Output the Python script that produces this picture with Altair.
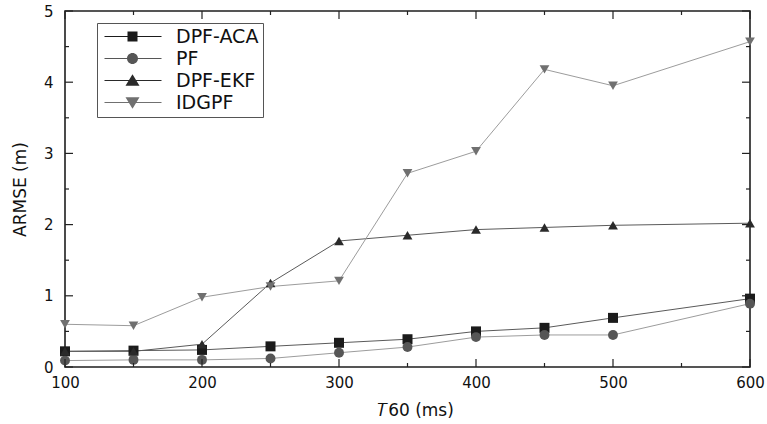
import altair as alt
import pandas as pd

# ---- data ----
t60 = [100, 150, 200, 250, 300, 350, 400, 450, 500, 600]
dpf_aca = [0.22, 0.23, 0.24, 0.29, 0.34, 0.39, 0.50, 0.55, 0.69, 0.96]
pf = [0.09, 0.10, 0.10, 0.12, 0.20, 0.28, 0.42, 0.45, 0.45, 0.89]
dpf_ekf = [0.22, 0.22, 0.32, 1.18, 1.77, 1.85, 1.93, 1.96, 1.99, 2.02]
idgpf = [0.60, 0.58, 0.98, 1.13, 1.21, 2.72, 3.03, 4.18, 3.95, 4.57]
series_names = ["DPF-ACA", "PF", "DPF-EKF", "IDGPF"]

x_major = [100, 200, 300, 400, 500, 600]
x_minor = [150, 250, 350, 450, 550]
y_major = [0, 1, 2, 3, 4, 5]
y_minor = [0.5, 1.5, 2.5, 3.5, 4.5]

rows = []
for name, vals in zip(series_names, [dpf_aca, pf, dpf_ekf, idgpf]):
    for t, v in zip(t60, vals):
        rows.append({"series": name, "t60": t, "armse": v})
df = pd.DataFrame(rows)

# ---- styling ----
W, H = 685, 356
FONT = "DejaVu Sans"
line_colors = ["#5a5a5a", "#9c9c9c", "#5a5a5a", "#9c9c9c"]
marker_colors = ["#1b1b1b", "#565656", "#2a2a2a", "#707070"]
marker_shapes = ["square", "circle", "triangle-up", "triangle-down"]
marker_sizes = [100, 95, 170, 170]

# legend symbols: thin line segment + marker (unit = 5 px)
seg = "M-1.2,-0.08 L10.2,-0.08 L10.2,0.08 L-1.2,0.08 Z "
legend_paths = [
    seg + "M3.4,-1 L5.4,-1 L5.4,1 L3.4,1 Z",
    seg + "M3.3,0 A1.1,1.1 0 1,1 5.5,0 A1.1,1.1 0 1,1 3.3,0 Z",
    seg + "M4.4,-1.25 L5.8,1.05 L3.0,1.05 Z",
    seg + "M3.0,-1.05 L5.8,-1.05 L4.4,1.25 Z",
]

xs = alt.Scale(domain=[100, 600], nice=False, zero=False)
ys = alt.Scale(domain=[0, 5], nice=False, zero=False)

x_axis = alt.Axis(
    title="𝑇60 (ms)", values=x_major, ticks=False, tickSize=0, domain=False,
    grid=False, format="d", labelFlush=False, labelFont=FONT, labelFontSize=15,
    labelColor="#111", labelPadding=8, titleFont=FONT, titleFontSize=17,
    titleFontWeight="normal", titleColor="#111", titlePadding=12, titleX=350,
)
y_axis = alt.Axis(
    title="ARMSE (m)", values=y_major, ticks=False, tickSize=0, domain=False,
    grid=False, format="d", labelFlush=False, labelFont=FONT, labelFontSize=15,
    labelColor="#111", labelPadding=12, titleFont=FONT, titleFontSize=17,
    titleFontWeight="normal", titleColor="#111", titlePadding=14,
)

lines = alt.Chart(df).mark_line(strokeWidth=1).encode(
    x=alt.X("t60:Q", scale=xs, axis=x_axis),
    y=alt.Y("armse:Q", scale=ys, axis=y_axis),
    color=alt.Color("series:N", scale=alt.Scale(domain=series_names, range=line_colors), legend=None),
)

points = alt.Chart(df).mark_point(filled=True, opacity=1).encode(
    x=alt.X("t60:Q"),
    y=alt.Y("armse:Q"),
    shape=alt.Shape("series:N", scale=alt.Scale(domain=series_names, range=marker_shapes), legend=None),
    color=alt.Color("series:N", scale=alt.Scale(domain=series_names, range=marker_colors), legend=None),
    size=alt.Size("series:N", scale=alt.Scale(domain=series_names, range=marker_sizes), legend=None),
)

leg = alt.Legend(
    title=None, orient="none", legendX=32, legendY=12, padding=4,
    symbolSize=100, symbolStrokeWidth=0, labelOffset=56,
    labelFont=FONT, labelFontSize=19, labelColor="#111",
    strokeColor="#555", fillColor="white", rowPadding=2,
)
legend_layer = alt.Chart(df).transform_filter("false").mark_point(filled=True, opacity=1).encode(
    x=alt.X("t60:Q"),
    y=alt.Y("armse:Q"),
    shape=alt.Shape("series:N", scale=alt.Scale(domain=series_names, range=legend_paths), legend=leg),
    color=alt.Color("series:N", scale=alt.Scale(domain=series_names, range=marker_colors), legend=leg),
)

tick_color = "#222"
def xticks(vals, y0, y1):
    return alt.Chart(pd.DataFrame({"t60": vals})).mark_rule(color=tick_color, strokeWidth=1.2).encode(
        x=alt.X("t60:Q"), y=alt.value(y0), y2=alt.value(y1))

def yticks(vals, x0, x1):
    return alt.Chart(pd.DataFrame({"armse": vals})).mark_rule(color=tick_color, strokeWidth=1.2).encode(
        y=alt.Y("armse:Q"), x=alt.value(x0), x2=alt.value(x1))

tick_layers = [
    xticks(x_major, H, H - 8), xticks(x_minor, H, H - 4),
    xticks(x_major, 0, 8), xticks(x_minor, 0, 4),
    yticks(y_major, 0, 8), yticks(y_minor, 0, 4),
    yticks(y_major, W, W - 8), yticks(y_minor, W, W - 4),
]

chart = alt.layer(lines, points, legend_layer, *tick_layers).resolve_scale(
    color="independent", shape="independent", size="independent"
).properties(
    width=W, height=H,
    autosize=alt.AutoSizeParams(type="none"),
    padding={"left": 65, "top": 11, "right": 17, "bottom": 57},
    background="white",
).configure_view(stroke="#1e1e1e", strokeWidth=1.6)

chart.save("out.html", embed_options={"renderer": "svg", "actions": False})
